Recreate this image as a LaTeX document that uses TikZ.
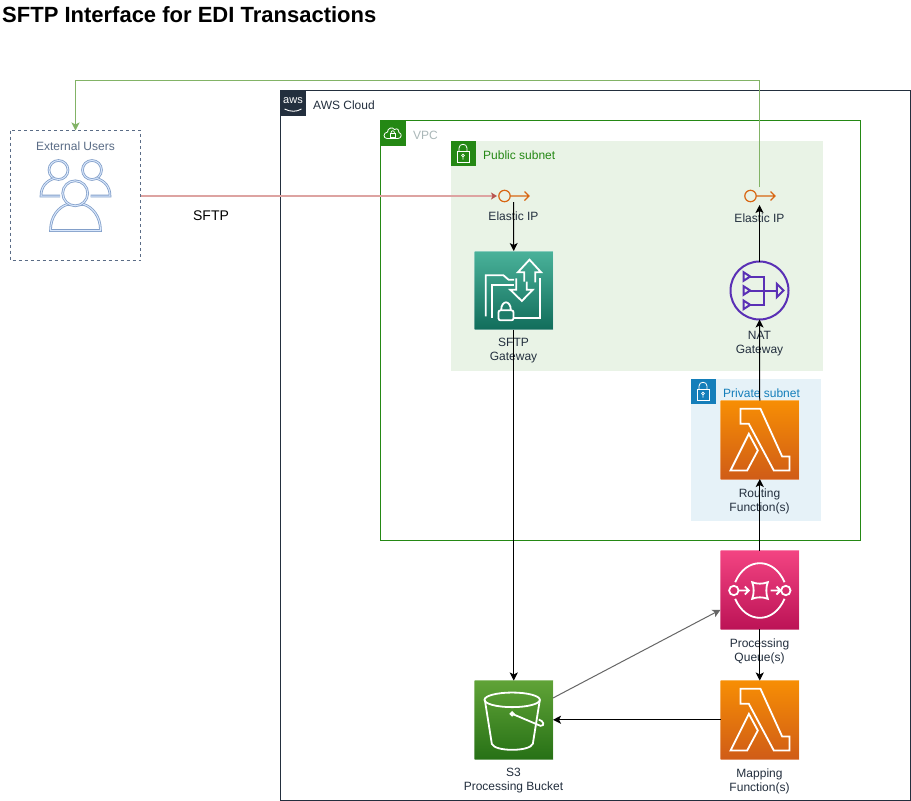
\documentclass[tikz,border=0pt]{standalone}
\usepackage{fontspec}
\setmainfont{Liberation Sans}
\usetikzlibrary{arrows.meta,calc}
\definecolor{awsink}{HTML}{232F3E}
\definecolor{vpcgreen}{HTML}{248814}
\definecolor{pubfill}{HTML}{E9F3E6}
\definecolor{privfill}{HTML}{E6F2F8}
\definecolor{privblue}{HTML}{147EBA}
\definecolor{groupslate}{HTML}{5A6C86}
\definecolor{vpcgrey}{HTML}{AAB7B8}
\definecolor{eiporange}{HTML}{D86613}
\definecolor{natpurple}{HTML}{5A30B5}
\definecolor{linkgreen}{HTML}{82B366}
\definecolor{linkred}{HTML}{DDA3A1}
\definecolor{headred}{HTML}{B85450}
\definecolor{peoplelight}{HTML}{DAE8FC}
\definecolor{peopleblue}{HTML}{6C8EBF}
\definecolor{linkgrey}{HTML}{666666}
\definecolor{teal1}{HTML}{4AB29A}
\definecolor{teal2}{HTML}{116D5B}
\definecolor{orange1}{HTML}{F78E04}
\definecolor{orange2}{HTML}{D05C17}
\definecolor{pink1}{HTML}{F34482}
\definecolor{pink2}{HTML}{BC1356}
\definecolor{green1}{HTML}{60A337}
\definecolor{green2}{HTML}{277116}
\tikzset{
  txt/.style={font=\fontsize{12}{14}\selectfont, inner sep=0pt, text=awsink, align=center},
  svcbox/.style={rectangle, minimum width=78.5pt, minimum height=78.5pt, inner sep=0pt, outer sep=0pt, draw=white, draw opacity=.35, line width=1pt},
  tealbox/.style={svcbox, top color=teal1, bottom color=teal2},
  orangebox/.style={svcbox, top color=orange1, bottom color=orange2},
  pinkbox/.style={svcbox, top color=pink1, bottom color=pink2},
  greenbox/.style={svcbox, top color=green1, bottom color=green2},
  badge/.style={rectangle, minimum width=25pt, minimum height=25pt, inner sep=0pt, outer sep=0pt, anchor=north west},
  groupbox/.style={rectangle, inner sep=0pt, outer sep=0pt, anchor=north west},
  eip/.style={rectangle, minimum width=33pt, inner sep=0pt, outer sep=0pt},
  arr/.style={-{Stealth[length=8pt,width=8pt,inset=2pt]}, line width=1pt, black},
  icon/.style={draw=white, line width=1.8pt, line join=miter},
  person/.style={draw=peopleblue!85!white, line width=.8pt, double=peoplelight, double distance=1pt},
  natline/.style={natpurple, line width=2pt},
}
\begin{document}
\begin{tikzpicture}[x=1pt,y=-1pt]
\useasboundingbox (0,0) rectangle (911,801);
\fill[white] (0,0) rectangle (911,801);

\node[anchor=west, inner sep=0pt, font=\bfseries\fontsize{22}{26}\selectfont] (title) at (2,15) {SFTP Interface for EDI Transactions};

% groups
\node[groupbox, minimum width=630pt, minimum height=709.5pt] (cloud) at (280.5,90.5) {};
\draw[awsink, line width=1pt] (cloud.north west) rectangle (cloud.south east);
\node[badge, fill=awsink] (awslogo) at (280.5,90.5) {};
\node[inner sep=0pt, text=white, font=\fontsize{11}{12}\selectfont] (awstext) at (293,100.5) {aws};
\draw[white, line width=.9pt] (284.5,109) .. controls (290.5,112) and (296.5,112) .. (301.5,109);
\node[txt, anchor=west] (cloudlabel) at (313,105) {AWS Cloud};

\node[groupbox, minimum width=480pt, minimum height=420pt] (vpc) at (380.5,120.5) {};
\draw[vpcgreen, line width=1pt] (vpc.north west) rectangle (vpc.south east);
\node[badge, fill=vpcgreen] (vpcbadge) at (380.5,120.5) {};
\draw[white, line width=.8pt] (387,138.5) .. controls (383,138.5) and (383,132.5) .. (387.5,132) .. controls (387.5,128) and (392.5,126.5) .. (394.5,129.5) .. controls (397.5,127.5) and (399.5,130.5) .. (399,132.5) .. controls (402.5,133.5) and (401.5,138.5) .. (398,138.5) -- cycle;
\draw[white, line width=.7pt] (390,133) rectangle (395.5,137);
\draw[white, line width=.7pt] (391,133) .. controls (391,130) and (394.5,130) .. (394.5,133);
\node[txt, anchor=west, text=vpcgrey] (vpclabel) at (413,135) {VPC};

\node[groupbox, fill=pubfill, minimum width=372pt, minimum height=230pt] (public) at (450.5,140.5) {};
\node[badge, fill=vpcgreen] (pubbadge) at (450.5,140.5) {};
\draw[white, line width=.8pt] (457,151) rectangle (469,162);
\draw[white, line width=.8pt] (459,151) -- (459,148) .. controls (459,143) and (467,143) .. (467,148) -- (467,151);
\draw[white, line width=.7pt] (463,155.5) circle (1.3pt) (463,156.8) -- (463,159.5);
\node[txt, anchor=west, text=vpcgreen] (publabel) at (483,155) {Public subnet};

\node[groupbox, fill=privfill, minimum width=130pt, minimum height=142pt] (private) at (690.5,378.5) {};
\node[badge, fill=privblue] (privbadge) at (690.5,378.5) {};
\draw[white, line width=.8pt] (697,389) rectangle (709,400);
\draw[white, line width=.8pt] (699,389) -- (699,386) .. controls (699,381) and (707,381) .. (707,386) -- (707,389);
\draw[white, line width=.7pt] (703,393.5) circle (1.3pt) (703,394.8) -- (703,397.5);
\node[txt, anchor=west, text=privblue] (privlabel) at (723,393) {Private subnet};

% external users
\node[groupbox, minimum width=130pt, minimum height=130pt] (users) at (10.5,130.5) {};
\draw[groupslate, line width=1pt, dash pattern=on 3pt off 3pt] (users.north west) rectangle (users.south east);
\node[txt, text=groupslate] (userslabel) at (75.5,146) {External Users};
\draw[person] (58.5,170) circle (9.5pt);
\draw[person] (92,170) circle (9.5pt);
\draw[person] (60,196) -- (41,196) .. controls (41,187) and (46,181) .. (54,178.5);
\draw[person] (90.5,196) -- (110,196) .. controls (110,187) and (105,181) .. (97,178.5);
\draw[person] (50.5,230.5) -- (100.5,230.5) .. controls (100.5,216) and (92,207) .. (84,204.5) -- (67,204.5) .. controls (59,207) and (50.5,216) .. (50.5,230.5) -- cycle;
\draw[person, fill=white] (75.2,193.3) circle (12.5pt);

% elastic ips
\node[eip, minimum height=12pt] (eipa) at (513.5,196) {};
\draw[eiporange, line width=1.2pt] (504.5,196) circle (5.7pt) (510.2,196) -- (529,196) (524.5,191.5) -- (529,196) -- (524.5,200.5);
\node[txt] (eipalabel) at (513.5,216) {Elastic IP};
\node[eip, minimum height=18pt] (eipb) at (759.5,196) {};
\draw[eiporange, line width=1.2pt] (750.5,196) circle (5.7pt) (756.2,196) -- (775,196) (770.5,191.5) -- (775,196) -- (770.5,200.5);
\node[txt] (eipblabel) at (759.5,218) {Elastic IP};

% SFTP gateway
\node[tealbox] (sftp) at (513.75,290.25) {};
\begin{scope}[shift={(sftp.north west)}, x=.3333pt, y=-.3333pt]
  \draw[icon] (34,196) -- (34,73) -- (87,73) -- (102,86) -- (119,86);
  \draw[icon] (52,201) -- (52,101) -- (119,101);
  \draw[icon] (197,81) -- (197,201) -- (117,201);
  \draw[icon] (182,94) -- (182,64) -- (200,64) -- (165,26) -- (130,64) -- (149,64) -- (149,92);
  \draw[icon] (125,82) -- (125,116) -- (107,116) -- (142,150) -- (175,116) -- (157,116) -- (157,92);
  \draw[icon, rounded corners=2pt, fill=teal2!80!teal1] (72,178) rectangle (117,208);
  \draw[icon] (80,178) .. controls (80,146) and (109,146) .. (109,178);
\end{scope}
\node[txt] (sftplabel) at (513.5,351) {SFTP\\Gateway};

% NAT gateway
\node[circle, draw=natpurple, line width=2pt, minimum size=58pt, inner sep=0pt, outer sep=0pt] (nat) at (759.5,290.5) {};
\begin{scope}[shift={(nat.center)}, x=.3333pt, y=-.3333pt]
  \draw[natline] (-48,-55) -- (-28,-42) -- (-48,-29) -- cycle;
  \draw[natline] (-48,-13) -- (-28,0) -- (-48,13) -- cycle;
  \draw[natline] (-48,30) -- (-28,43) -- (-48,56) -- cycle;
  \draw[natline] (-28,-42) -- (14,-42) -- (14,43) -- (-28,43);
  \draw[natline] (-28,0) -- (52,0);
  \draw[natline] (52,-20) -- (72,0) -- (52,20) -- cycle;
\end{scope}
\node[txt] (natlabel) at (759.5,344) {NAT\\Gateway};

% routing lambda
\node[orangebox] (routing) at (759.75,439.75) {};
\begin{scope}[shift={(routing.north west)}, x=.3333pt, y=-.3333pt]
  \draw[icon] (60,25) -- (120,25) -- (185,168) -- (207,168) -- (207,210) -- (160,210) -- (85,70) -- (60,70) -- cycle;
  \draw[icon] (30,210) -- (85,100) -- (112,150) -- (80,210) -- cycle;
\end{scope}
\node[txt] (routinglabel) at (759.5,501) {Routing\\Function(s)};

% SQS
\node[pinkbox] (sqs) at (759.75,589.75) {};
\begin{scope}[shift={(sqs.north west)}, x=.3333pt, y=-.3333pt]
  \draw[icon] (44,95) .. controls (60,58) and (88,38) .. (118,38) .. controls (148,38) and (176,58) .. (192,95);
  \draw[icon] (44,145) .. controls (60,182) and (88,202) .. (118,202) .. controls (148,202) and (176,182) .. (192,145);
  \draw[icon] (40,120) circle (4.7pt);
  \draw[icon] (196,120) circle (4.7pt);
  \draw[icon] (55,120) -- (85,120) (73,108) -- (85,120) -- (73,132);
  \draw[icon] (150,120) -- (180,120) (168,108) -- (180,120) -- (168,132);
  \draw[icon] (95,95) .. controls (108,101) and (128,101) .. (142,95) .. controls (136,108) and (136,132) .. (142,145) .. controls (128,139) and (108,139) .. (95,145) .. controls (101,132) and (101,108) .. (95,95) -- cycle;
\end{scope}
\node[txt] (sqslabel) at (759.5,651) {Processing\\Queue(s)};

% Mapping lambda
\node[orangebox] (mapping) at (759.75,719.75) {};
\begin{scope}[shift={(mapping.north west)}, x=.3333pt, y=-.3333pt]
  \draw[icon] (60,25) -- (120,25) -- (185,168) -- (207,168) -- (207,210) -- (160,210) -- (85,70) -- (60,70) -- cycle;
  \draw[icon] (30,210) -- (85,100) -- (112,150) -- (80,210) -- cycle;
\end{scope}
\node[txt] (mappinglabel) at (759.5,781) {Mapping\\Function(s)};

% S3
\node[greenbox] (s3) at (513.75,719.75) {};
\begin{scope}[shift={(s3.north west)}, x=.3333pt, y=-.3333pt]
  \draw[icon] (113,58) ellipse (27.7pt and 7.3pt);
  \draw[icon] (31,58) -- (52,190) .. controls (60,214) and (166,214) .. (175,190) -- (196,58);
  \draw[icon, fill=white] (113,100) circle (1.6pt);
  \draw[icon] (113,100) -- (198,136) .. controls (212,136) and (208,122) .. (193,117);
\end{scope}
\node[txt] (s3label) at (513.5,781) {S3\\Processing Bucket};

\node[inner sep=0pt, font=\fontsize{14}{16}\selectfont] (sftpedge) at (211,216) {SFTP};

% connectors
\coordinate (topbend) at (75.5,80.5);
\draw[linkgreen, line width=1pt, -{Stealth[length=8pt,width=8pt,inset=2pt]}] (eipb.north) |- (topbend) -- (users.north);
\draw[linkred, line width=2pt, -{Stealth[length=6pt,width=7pt,inset=1.5pt,fill=headred,color=headred]}] (users.east |- eipa.west) -- (eipa.west);
\draw[arr] (eipa.south) -- (sftp.north);
\draw[arr] (sftp.south) -- (s3.north);
\draw[arr, linkgrey] (s3.29) -- (sqs.207);
\draw[arr] (mapping.west) -- (s3.east);
\draw[arr] (sqs.south) -- (mapping.north);
\draw[arr] (sqs.north) -- (routing.south);
\draw[arr] (routing.north) -- (nat.south);
\draw[arr] (nat.north) -- (eipb.south);
\end{tikzpicture}
\end{document}
